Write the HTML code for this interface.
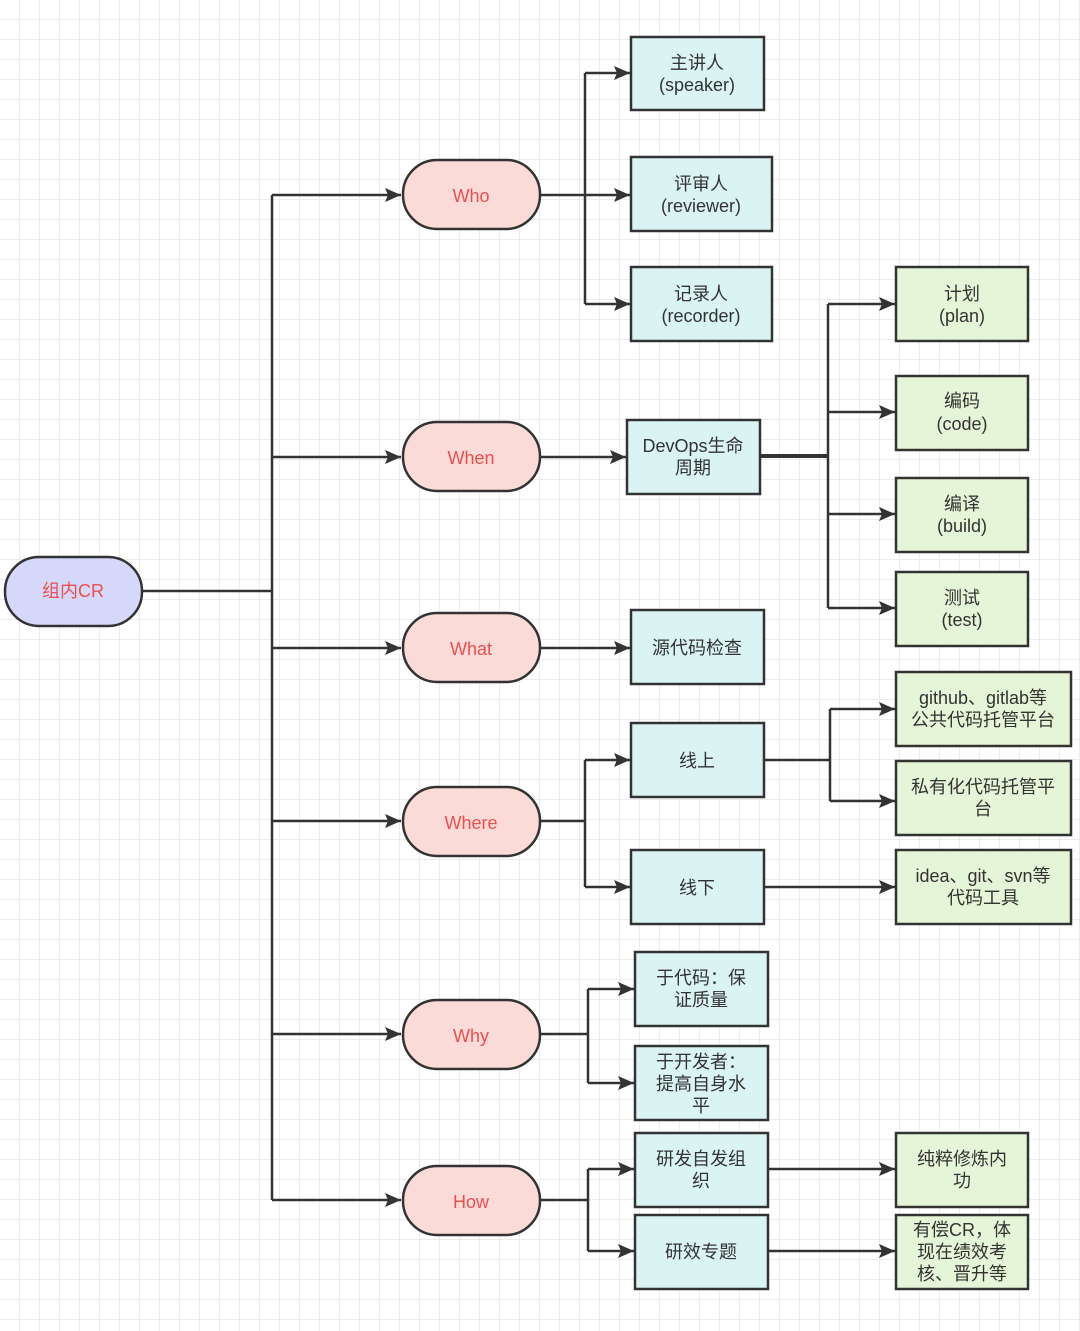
<!DOCTYPE html><html><head><meta charset="utf-8"><style>body{margin:0;background:#fff}svg{display:block}text{font-family:"Liberation Sans","Noto Sans CJK SC",sans-serif;font-size:18px;fill:#333;text-anchor:middle}</style></head><body>
<svg width="1080" height="1331" xmlns="http://www.w3.org/2000/svg">
<defs><pattern id="g" width="20" height="20" patternUnits="userSpaceOnUse"><path d="M20 0V20H0" fill="none" stroke="#e6e6e6" stroke-width="1.5"/></pattern>
<marker id="a" markerWidth="16" markerHeight="14" refX="16" refY="7" orient="auto" markerUnits="userSpaceOnUse" viewBox="0 0 16 14"><path d="M0 0L16 7L0 14L3 7Z" fill="#333"/></marker></defs>
<rect width="1080" height="1331" fill="url(#g)"/>
<g stroke="#333" stroke-width="2.5" fill="none">
<path d="M142 591H272M272 195V1200"/>
<path d="M272 195H401" marker-end="url(#a)"/><path d="M272 457H401" marker-end="url(#a)"/><path d="M272 648H401" marker-end="url(#a)"/><path d="M272 821H401" marker-end="url(#a)"/><path d="M272 1034H401" marker-end="url(#a)"/><path d="M272 1200H401" marker-end="url(#a)"/>
<path d="M540 195H585M585 73V304"/>
<path d="M585 73H630" marker-end="url(#a)"/><path d="M585 195H630" marker-end="url(#a)"/><path d="M585 304H630" marker-end="url(#a)"/>
<path d="M540 457H626" marker-end="url(#a)"/><path d="M540 648H630" marker-end="url(#a)"/>
<path d="M760 456H828" stroke-width="4"/><path d="M828 304V608"/>
<path d="M828 304H895" marker-end="url(#a)"/><path d="M828 412H895" marker-end="url(#a)"/><path d="M828 514H895" marker-end="url(#a)"/><path d="M828 608H895" marker-end="url(#a)"/>
<path d="M540 821H585M585 760V887"/>
<path d="M585 760H630" marker-end="url(#a)"/><path d="M585 887H630" marker-end="url(#a)"/>
<path d="M764 760H830M830 709V801"/>
<path d="M830 709H895" marker-end="url(#a)"/><path d="M830 801H895" marker-end="url(#a)"/><path d="M764 887H895" marker-end="url(#a)"/>
<path d="M540 1034H588M588 989V1083"/>
<path d="M588 989H634" marker-end="url(#a)"/><path d="M588 1083H634" marker-end="url(#a)"/>
<path d="M540 1200H588M588 1169V1251"/>
<path d="M588 1169H634" marker-end="url(#a)"/><path d="M588 1251H634" marker-end="url(#a)"/><path d="M768 1169H895" marker-end="url(#a)"/><path d="M768 1251H895" marker-end="url(#a)"/>
</g>
<g stroke="#333" stroke-width="2.5">
<rect x="5" y="557" width="137" height="69" rx="34" fill="#d5d8f8"/>
<g fill="#fadbd8"><rect x="403" y="160" width="137" height="69" rx="34"/><rect x="403" y="422" width="137" height="69" rx="34"/><rect x="403" y="613" width="137" height="69" rx="34"/><rect x="403" y="787" width="137" height="69" rx="34"/><rect x="403" y="1000" width="137" height="69" rx="34"/><rect x="403" y="1166" width="137" height="69" rx="34"/></g>
<g fill="#daf3f3"><rect x="631" y="37" width="133" height="73"/><rect x="631" y="157" width="141" height="74"/><rect x="631" y="267" width="141" height="74"/><rect x="627" y="420" width="133" height="74"/><rect x="631" y="610" width="133" height="74"/><rect x="631" y="723" width="133" height="74"/><rect x="631" y="850" width="133" height="74"/><rect x="635" y="952" width="133" height="74"/><rect x="635" y="1046" width="133" height="74"/><rect x="635" y="1133" width="133" height="74"/><rect x="635" y="1215" width="133" height="74"/></g>
<g fill="#e5f5d7"><rect x="896" y="267" width="132" height="74"/><rect x="896" y="376" width="132" height="74"/><rect x="896" y="478" width="132" height="74"/><rect x="896" y="572" width="132" height="74"/><rect x="896" y="672" width="175" height="74"/><rect x="896" y="761" width="175" height="74"/><rect x="896" y="850" width="175" height="74"/><rect x="896" y="1133" width="132" height="74"/><rect x="896" y="1215" width="132" height="74"/></g>
</g>
<text x="73" y="597" style="fill:#e85050">组内CR</text>
<text x="471" y="202" style="fill:#e85050">Who</text><text x="471" y="464" style="fill:#e85050">When</text><text x="471" y="655" style="fill:#e85050">What</text><text x="471" y="829" style="fill:#e85050">Where</text><text x="471" y="1042" style="fill:#e85050">Why</text><text x="471" y="1208" style="fill:#e85050">How</text>
<text x="697" y="69">主讲人</text><text x="697" y="91">(speaker)</text>
<text x="701" y="190">评审人</text><text x="701" y="212">(reviewer)</text>
<text x="701" y="300">记录人</text><text x="701" y="322">(recorder)</text>
<text x="693" y="452">DevOps生命</text><text x="693" y="474">周期</text>
<text x="697" y="654">源代码检查</text><text x="697" y="767">线上</text><text x="697" y="894">线下</text>
<text x="701" y="984">于代码：保</text><text x="701" y="1006">证质量</text>
<text x="701" y="1068">于开发者：</text><text x="701" y="1090">提高自身水</text><text x="701" y="1112">平</text>
<text x="701" y="1165">研发自发组</text><text x="701" y="1187">织</text><text x="701" y="1258">研效专题</text>
<text x="962" y="300">计划</text><text x="962" y="322">(plan)</text>
<text x="962" y="407">编码</text><text x="962" y="430">(code)</text>
<text x="962" y="510">编译</text><text x="962" y="532">(build)</text>
<text x="962" y="604">测试</text><text x="962" y="626">(test)</text>
<text x="983" y="704">github、gitlab等</text><text x="983" y="726">公共代码托管平台</text>
<text x="983" y="793">私有化代码托管平</text><text x="983" y="815">台</text>
<text x="983" y="882">idea、git、svn等</text><text x="983" y="904">代码工具</text>
<text x="962" y="1165">纯粹修炼内</text><text x="962" y="1187">功</text>
<text x="962" y="1236">有偿CR，体</text><text x="962" y="1258">现在绩效考</text><text x="962" y="1280">核、晋升等</text>
</svg></body></html>
